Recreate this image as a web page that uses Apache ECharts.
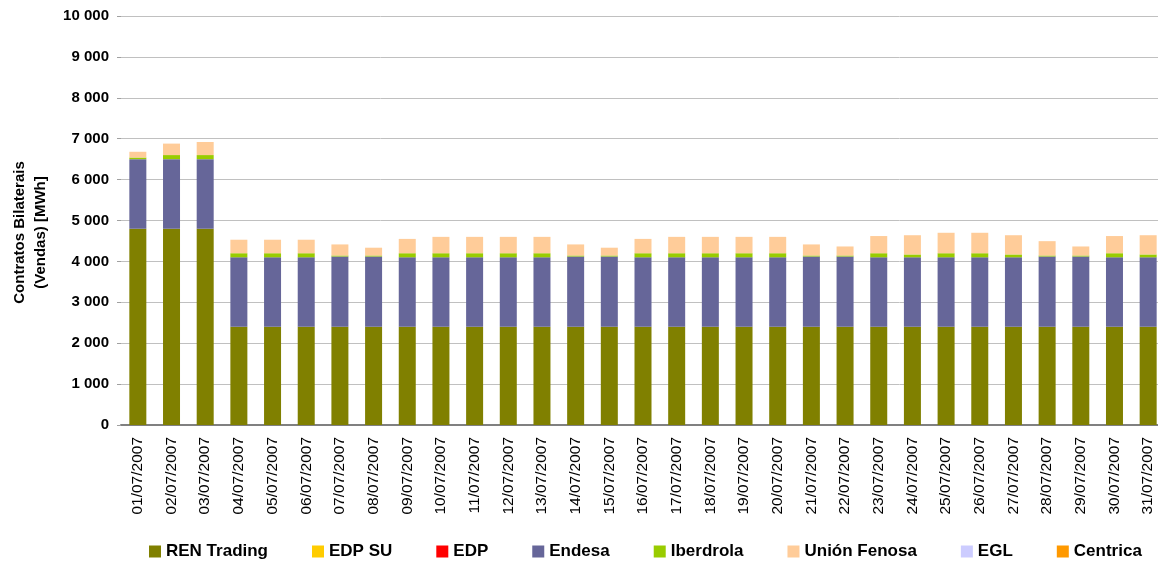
<!DOCTYPE html>
<html>
<head>
<meta charset="utf-8">
<script src="https://cdn.jsdelivr.net/npm/echarts@6/dist/echarts.min.js"></script>
<style>
  html, body { margin: 0; padding: 0; background: #fff; }
  #chart { width: 1158px; height: 563px; }
</style>
</head>
<body>
<div id="chart"></div>
<script>
// dias de julho 2007
var days = [];
for (var d = 1; d <= 31; d++) {
    days.push((d < 10 ? "0" + d : "" + d) + "/07/2007");
}

var renTrading = [4800, 4800, 4800, 2400, 2400, 2400, 2400, 2400, 2400, 2400,
    2400, 2400, 2400, 2400, 2400, 2400, 2400, 2400, 2400, 2400,
    2400, 2400, 2400, 2400, 2400, 2400, 2400, 2400, 2400, 2400, 2400];
var edpSU = [0, 0, 0, 0, 0, 0, 0, 0, 0, 0, 0, 0, 0, 0, 0, 0, 0, 0, 0, 0,
    0, 0, 0, 0, 0, 0, 0, 0, 0, 0, 0];
var edp = [0, 0, 0, 0, 0, 0, 0, 0, 0, 0, 0, 0, 0, 0, 0, 0, 0, 0, 0, 0,
    0, 0, 0, 0, 0, 0, 0, 0, 0, 0, 0];
var endesa = [1700, 1700, 1700, 1700, 1700, 1700, 1720, 1720, 1700, 1700,
    1700, 1700, 1700, 1720, 1720, 1700, 1700, 1700, 1700, 1700,
    1720, 1720, 1700, 1700, 1700, 1700, 1700, 1720, 1720, 1700, 1700];
var iberdrola = [40, 100, 100, 100, 100, 100, 25, 25, 100, 100,
    100, 100, 100, 25, 25, 100, 100, 100, 100, 100,
    25, 25, 100, 70, 100, 100, 70, 25, 25, 100, 70];
var unionFenosa = [140, 280, 320, 330, 330, 330, 270, 190, 350, 400,
    400, 400, 400, 270, 190, 350, 400, 400, 400, 400,
    270, 220, 420, 470, 500, 500, 470, 350, 220, 420, 470];
var egl = [0, 0, 0, 0, 0, 0, 0, 0, 0, 0, 0, 0, 0, 0, 0, 0, 0, 0, 0, 0,
    0, 0, 0, 0, 0, 0, 0, 0, 0, 0, 0];
var centrica = [0, 0, 0, 0, 0, 0, 0, 0, 0, 0, 0, 0, 0, 0, 0, 0, 0, 0, 0, 0,
    0, 0, 0, 0, 0, 0, 0, 0, 0, 0, 0];

var names = ["REN Trading", "EDP SU", "EDP", "Endesa", "Iberdrola", "Unión Fenosa", "EGL", "Centrica"];
var colors = ["#808000", "#ffcc00", "#ff0000", "#666699", "#99cc00", "#ffcc99", "#ccccff", "#ff9900"];
var values = [renTrading, edpSU, edp, endesa, iberdrola, unionFenosa, egl, centrica];

var font = "'Liberation Sans', Arial, sans-serif";

function fmt(v) {
    var s = String(v);
    return s.replace(/\B(?=(\d{3})+(?!\d))/g, " ");
}

var series = [];
for (var i = 0; i < names.length; i++) {
    series.push({
        name: names[i],
        type: "bar",
        stack: "total",
        barWidth: 17,
        itemStyle: {color: colors[i]},
        data: values[i]
    });
}

var option = {
    animation: false,
    textStyle: {fontFamily: font},
    grid: {
        left: 121,
        top: 16,
        width: 1044,
        bottom: 138,
        outerBoundsMode: "none"
    },
    legend: {
        left: 149,
        top: 543,
        padding: 0,
        itemWidth: 12,
        itemHeight: 12,
        itemGap: 44,
        icon: "rect",
        textStyle: {fontFamily: font, fontSize: 17, fontWeight: "bold", color: "#000"},
        data: names
    },
    xAxis: {
        type: "category",
        data: days,
        axisLine: {lineStyle: {color: "#808080", width: 2}},
        axisTick: {show: false},
        axisLabel: {
            rotate: 90,
            interval: 0,
            margin: 12,
            fontSize: 15.5,
            color: "#000",
            fontFamily: font
        }
    },
    yAxis: {
        type: "value",
        min: 0,
        max: 10000,
        interval: 1000,
        name: "Contratos Bilaterais\n(Vendas) [MWh]",
        nameLocation: "middle",
        nameGap: 70,
        nameTextStyle: {
            fontFamily: font, fontSize: 15, fontWeight: "bold", color: "#000",
            lineHeight: 21, padding: [0, 24, 0, 0]
        },
        axisLine: {show: false},
        axisTick: {show: true, length: 4, lineStyle: {color: "#a0a0a0"}},
        splitLine: {lineStyle: {color: "#c0c0c0", width: 1}},
        axisLabel: {
            formatter: fmt,
            fontSize: 15,
            fontWeight: "bold",
            color: "#000",
            margin: 12,
            fontFamily: font
        }
    },
    series: series
};

var chart = echarts.init(document.getElementById("chart"));
chart.setOption(option);
</script>
</body>
</html>
